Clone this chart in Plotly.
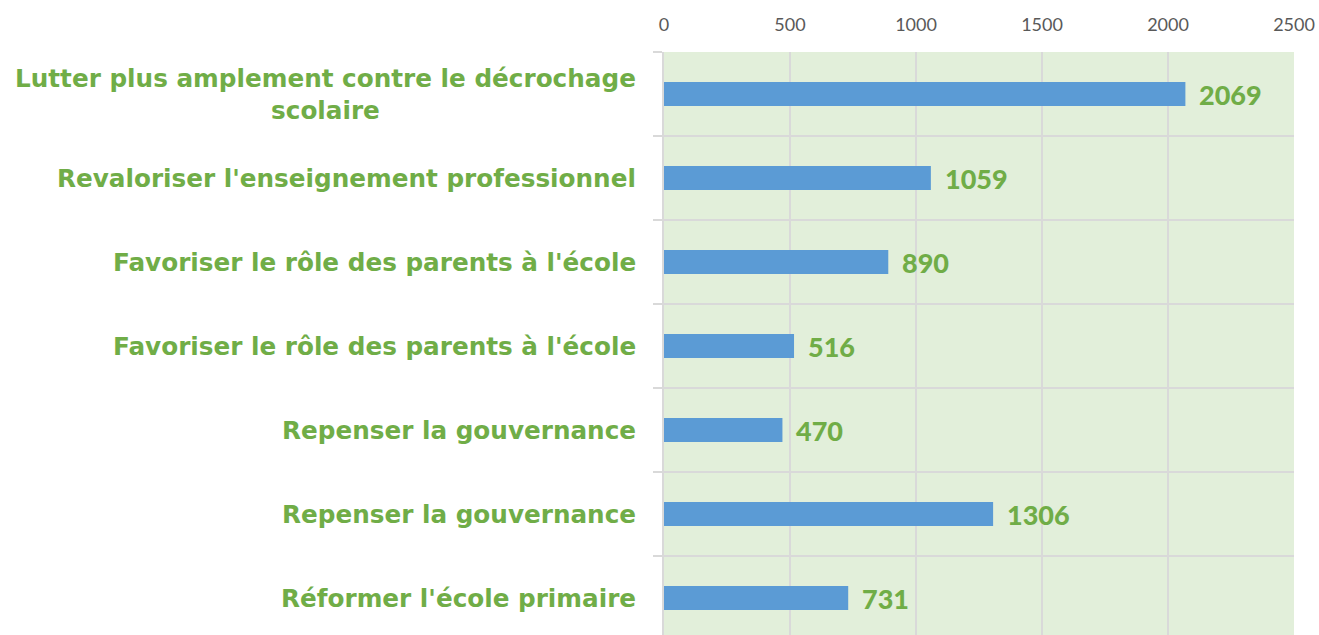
import plotly.graph_objects as go

categories = [
    "Lutter plus amplement contre le décrochage<br>scolaire",
    "Revaloriser l'enseignement professionnel",
    "Favoriser le rôle des parents à l'école",
    "Favoriser le rôle des parents à l'école",
    "Repenser la gouvernance",
    "Repenser la gouvernance",
    "Réformer l'école primaire",
]
values = [2069, 1059, 890, 516, 470, 1306, 731]
x_ticks = [0, 500, 1000, 1500, 2000, 2500]

GREEN = "#70AD47"
BLUE = "#5B9BD5"
GRID = "#D9D9D9"

positions = list(range(len(categories)))

fig = go.Figure(
    go.Bar(
        x=values,
        y=positions,
        orientation="h",
        width=0.286,
        marker=dict(color=BLUE, line=dict(width=0)),
        hoverinfo="x",
    )
)

# category labels, centred lines, right edge just left of the axis
for pos, label in zip(positions, categories):
    fig.add_annotation(
        x=0, xref="paper", xshift=-26,
        y=pos, yref="y",
        text=label, showarrow=False,
        xanchor="right", yanchor="middle", align="center",
        font=dict(family="DejaVu Sans", size=24.7, color=GREEN, weight="bold"),
    )

# value labels at the end of each bar
for pos, v in zip(positions, values):
    fig.add_annotation(
        x=v, xref="x", xshift=12,
        y=pos, yref="y",
        text=str(v), showarrow=False,
        xanchor="left", yanchor="middle",
        font=dict(family="Lato", size=27, color=GREEN, weight=900),
    )

fig.update_layout(
    width=1319, height=635,
    margin=dict(l=664, r=25, t=52, b=0),
    paper_bgcolor="white",
    plot_bgcolor="#E2EFDA",
    showlegend=False,
    xaxis=dict(
        side="top", range=[0, 2500], tickvals=x_ticks,
        showgrid=True, gridcolor=GRID, gridwidth=1.5,
        zeroline=False, showline=False, ticks="",
        tickfont=dict(family="Lato", size=18, color="#595959"),
        ticklabelstandoff=16,
    ),
    yaxis=dict(
        range=[-0.5 + 583 / 84, -0.5],
        tickvals=positions, showticklabels=False, ticks="",
        showgrid=False, zeroline=False,
        showline=True, linecolor=GRID, linewidth=2,
        minor=dict(tick0=0.5, dtick=1, showgrid=True, gridcolor=GRID,
                   gridwidth=1.5, ticks="outside", ticklen=9, tickcolor=GRID,
                   tickwidth=1.5),
    ),
)

fig.write_html("out.html")
